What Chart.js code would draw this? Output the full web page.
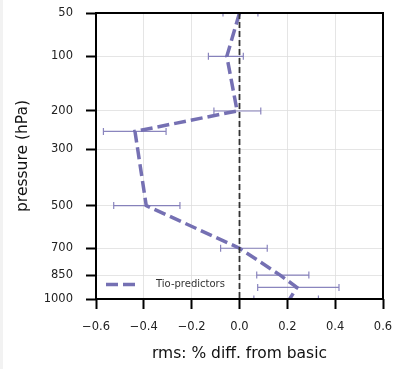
<!DOCTYPE html>
<html>
<head>
<meta charset="utf-8">
<script src="https://cdn.jsdelivr.net/npm/chart.js@4.4.1/dist/chart.umd.min.js"></script>
<style>
  html, body { margin: 0; padding: 0; }
  body { width: 399px; height: 369px; background: linear-gradient(to right, #f2f2f2 3px, #ffffff 3px); overflow: hidden; }
  #wrap { position: absolute; left: 0; top: 0; width: 399px; height: 369px; }
</style>
</head>
<body>
<div id="wrap"><canvas id="c" width="399" height="369"></canvas></div>
<script>
// ---- data ----
const pressureLevels = [50, 100, 200, 250, 500, 700, 850, 925, 1000];
const rmsDiff        = [0.0, -0.053, -0.01, -0.437, -0.39, 0.0, 0.17, 0.24, 0.21];
const errLow         = [-0.069, -0.13, -0.107, -0.569, -0.526, -0.079, 0.072, 0.076, 0.06];
const errHigh        = [0.077, 0.016, 0.089, -0.307, -0.249, 0.116, 0.29, 0.416, 0.33];
const yTickLabels    = [50, 100, 200, 300, 500, 700, 850, 1000];
const xTickValues    = [-0.6, -0.4, -0.2, 0.0, 0.2, 0.4, 0.6];
const seriesName     = 'Tio-predictors';
const xTitle         = 'rms: % diff. from basic';
const yTitle         = 'pressure (hPa)';

const LINE_COLOR = '#7570b3';
const FONT = "'DejaVu Sans', sans-serif";
const pY = p => Math.cbrt(p); // pressure axis uses cube-root spacing

const mainData = pressureLevels.map((p, i) => ({ x: rmsDiff[i], y: pY(p) }));
const zeroLine = [{ x: 0, y: pY(50) }, { x: 0, y: pY(1000) }];

const errorBarPlugin = {
  id: 'errorBars',
  beforeDatasetsDraw(chart) {
    const { ctx, chartArea: a, scales: { x, y } } = chart;
    ctx.save();
    ctx.beginPath();
    ctx.rect(a.left, a.top, a.right - a.left, a.bottom - a.top);
    ctx.clip();
    ctx.strokeStyle = 'rgba(117,112,179,0.85)';
    ctx.lineWidth = 1.2;
    pressureLevels.forEach((p, i) => {
      const yy = y.getPixelForValue(pY(p));
      const x1 = x.getPixelForValue(errLow[i]);
      const x2 = x.getPixelForValue(errHigh[i]);
      ctx.beginPath();
      ctx.moveTo(x1, yy); ctx.lineTo(x2, yy);
      ctx.moveTo(x1, yy - 3.5); ctx.lineTo(x1, yy + 3.5);
      ctx.moveTo(x2, yy - 3.5); ctx.lineTo(x2, yy + 3.5);
      ctx.stroke();
    });
    ctx.restore();
  },
  afterDraw(chart) {
    const { ctx, chartArea: a } = chart;
    ctx.save();
    ctx.strokeStyle = '#000';
    ctx.lineWidth = 2;
    ctx.strokeRect(a.left, a.top, a.right - a.left, a.bottom - a.top);
    const ly = a.bottom - 14.5;
    ctx.strokeStyle = LINE_COLOR;
    ctx.lineWidth = 3.5;
    ctx.setLineDash([12, 5]);
    ctx.beginPath();
    ctx.moveTo(a.left + 10, ly); ctx.lineTo(a.left + 44, ly);
    ctx.stroke();
    ctx.setLineDash([]);
    ctx.fillStyle = '#333';
    ctx.font = '10px ' + FONT;
    ctx.textBaseline = 'middle';
    ctx.textAlign = 'left';
    ctx.fillText(seriesName, a.left + 60, ly);
    ctx.restore();
  }
};

new Chart(document.getElementById('c'), {
  type: 'scatter',
  data: {
    datasets: [
      {
        label: seriesName,
        data: mainData,
        showLine: true,
        borderColor: LINE_COLOR,
        backgroundColor: LINE_COLOR,
        borderWidth: 3.5,
        borderDash: [12, 5],
        pointRadius: 0,
        tension: 0,
        order: 2
      },
      {
        label: 'zero',
        data: zeroLine,
        showLine: true,
        borderColor: '#333',
        borderWidth: 1.8,
        borderDash: [6, 3],
        pointRadius: 0,
        order: 1
      }
    ]
  },
  options: {
    responsive: false,
    animation: false,
    devicePixelRatio: 1,
    layout: { padding: { top: 13, right: 16, left: 0, bottom: 0 } },
    plugins: { legend: { display: false }, tooltip: { enabled: false } },
    scales: {
      x: {
        type: 'linear',
        min: -0.6, max: 0.6,
        afterBuildTicks: s => { s.ticks = xTickValues.map(v => ({ value: v })); },
        afterFit: s => { s.height = 70; s.paddingLeft = 0; s.paddingRight = 0; },
        grid: { color: '#dedede', lineWidth: 0.8, drawTicks: true, tickLength: 10, tickColor: '#000', tickWidth: 2 },
        border: { display: false },
        ticks: {
          padding: 11,
          color: '#222',
          font: { family: FONT, size: 11.5 },
          callback: v => (v < 0 ? '\u2212' : '') + Math.abs(v).toFixed(1)
        },
        title: { display: true, text: xTitle, color: '#111', font: { family: FONT, size: 15.5 }, padding: { top: 0, bottom: 6 } }
      },
      y: {
        type: 'linear',
        reverse: true,
        min: pY(50), max: pY(1000),
        afterBuildTicks: s => { s.ticks = yTickLabels.map(p => ({ value: pY(p) })); },
        afterFit: s => { s.width = 96; s.paddingTop = 0; s.paddingBottom = 0; },
        grid: { color: '#dedede', lineWidth: 0.8, drawTicks: true, tickLength: 10, tickColor: '#000', tickWidth: 2 },
        border: { display: false },
        ticks: {
          padding: 13,
          color: '#222',
          font: { family: FONT, size: 11.5 },
          callback: (v, i) => String(yTickLabels[i])
        },
        title: { display: true, text: yTitle, color: '#111', font: { family: FONT, size: 15.5 }, padding: { top: 14, bottom: 0 } }
      }
    }
  },
  plugins: [errorBarPlugin]
});
</script>
</body>
</html>
